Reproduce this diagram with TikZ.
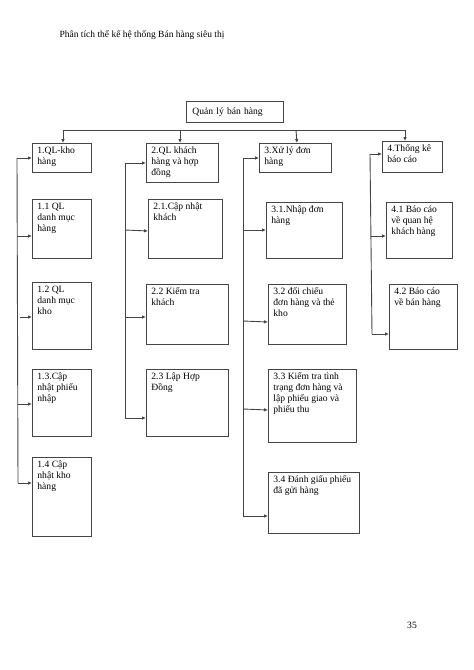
\documentclass[tikz,border=0pt]{standalone}
\usepackage{fontspec}
\setmainfont{Liberation Serif}
\usetikzlibrary{arrows.meta}
\definecolor{ln}{HTML}{454545}
\newcommand{\bx}[6]{%
  \node[boxst, anchor=north west] (#1) at (#2,#3)
    {\parbox[c][\dimexpr #5bp-7bp\relax][t]{\dimexpr #4bp-10bp\relax}{\raggedright #6}};}
\begin{document}
\begin{tikzpicture}[x=1bp,y=-1bp,
  boxst/.style={draw=ln, line width=0.8bp, inner xsep=5bp, inner ysep=3.5bp,
    font=\fontsize{9.6bp}{10.9bp}\selectfont, text=black},
  conn/.style={draw=ln, line width=0.9bp, -{Latex[length=4bp,width=3.5bp]}},
  seg/.style={draw=ln, line width=0.9bp}]
\useasboundingbox (0,0) rectangle (474,670);
\node[anchor=west, font=\fontsize{9.5bp}{11bp}\selectfont] (title) at (56,35) {Phân tích thể kế hệ thống Bán hàng siêu thị};
\node[anchor=center, font=\fontsize{9.6bp}{11bp}\selectfont] (page) at (412,625) {35};
% root
\node[draw=ln, line width=0.8bp, anchor=north west, minimum width=97bp, minimum height=21bp,
  inner xsep=6bp, font=\fontsize{9.6bp}{11bp}\selectfont, text width=85bp, align=left] (root) at (186,101) {Quản lý bán hàng};
% level 1
\bx{b1}{32}{143}{59}{29}{1.QL-kho\\hàng}
\bx{b2}{146}{143}{72}{39}{2.QL khách\\hàng và hợp\\đồng}
\bx{b3}{259}{143}{72}{29}{3.Xử lý đơn\\hàng}
\bx{b4}{382}{141}{60}{31}{4.Thống kê\\báo cáo}
% column 1
\bx{b11}{32}{199}{59}{59}{1.1 QL\\danh mục\\hàng}
\bx{b12}{32}{282}{59}{67}{1.2 QL\\danh mục\\kho}
\bx{b13}{32}{369}{59}{67}{1.3.Cập\\nhật phiếu\\nhập}
\bx{b14}{32}{457}{59}{79}{1.4 Cập\\nhật kho\\hàng}
% column 2
\bx{b21}{148}{199}{74}{59}{2.1.Cập nhật\\khách}
\bx{b22}{146}{284}{82}{60}{2.2 Kiểm tra\\khách}
\bx{b23}{146}{369}{82}{67}{2.3 Lập Hợp\\Đồng}
% column 3
\bx{b31}{266}{202}{76}{56}{3.1.Nhập đơn\\hàng}
\bx{b32}{268}{284}{78}{60}{3.2 đối chiếu\\đơn hàng và thẻ\\kho}
\bx{b33}{268}{369}{88}{73}{3.3 Kiểm tra tình\\trạng đơn hàng và\\lập phiếu giao và\\phiếu thu}
\bx{b34}{268}{472}{91}{61}{3.4 Đánh giấu phiếu\\đã gửi hàng}
% column 4
\bx{b41}{386}{202}{66}{56}{4.1 Báo cáo\\về quan hệ\\khách hàng}
\bx{b42}{389}{284}{68}{65}{4.2 Báo cáo\\về bán hàng}
% top bus
\coordinate (busL) at (63,130);
\coordinate (busR) at (405,130);
\draw[seg] (busL) -- (busR);
\draw[conn] (busL) -- (63,143);
\draw[conn] (180,130) -- (180,143);
\draw[conn] (296,130) -- (297,143);
\draw[conn] (busR) -- (405,141);
% column 1 bus
\coordinate (c1t) at (17,158);
\coordinate (c1b) at (18,483);
\draw[seg] (c1t) -- (c1b);
\draw[conn] (c1t) -- (b1.west |- 0,158);
\draw[conn] (17,236) -- (b11.west |- 0,236);
\draw[conn] (20,317) -- (b12.west |- 0,317);
\draw[conn] (18,404) -- (b13.west |- 0,404);
\draw[conn] (c1b) -- (b14.west |- 0,483);
% column 2 bus
\coordinate (c2t) at (125,163);
\coordinate (c2b) at (125,418);
\draw[seg] (c2t) -- (c2b);
\draw[conn] (c2t) -- (b2.west |- 0,163);
\draw[conn] (125,230) -- (b21.west |- 0,231);
\draw[conn] (125,317) -- (b22.west |- 0,317);
\draw[conn] (c2b) -- (b23.west |- 0,418);
% column 3 bus
\coordinate (c3t) at (243,158);
\coordinate (c3b) at (243,516);
\draw[seg] (c3t) -- (c3b);
\draw[conn] (c3t) -- (b3.west |- 0,158);
\draw[conn] (243,230) -- (b31.west |- 0,230);
\draw[conn] (243,321) -- (b32.west |- 0,322);
\draw[conn] (243,409) -- (b33.west |- 0,410);
\draw[conn] (c3b) -- (b34.west |- 0,516);
% column 4 bus
\coordinate (c4t) at (370,154);
\coordinate (c4b) at (372,334);
\draw[seg] (c4t) -- (c4b);
\draw[conn] (c4t) -- (b4.west |- 0,154);
\draw[conn] (371,236) -- (b41.west |- 0,236);
\draw[conn] (c4b) -- (b42.west |- 0,334);
\end{tikzpicture}
\end{document}
